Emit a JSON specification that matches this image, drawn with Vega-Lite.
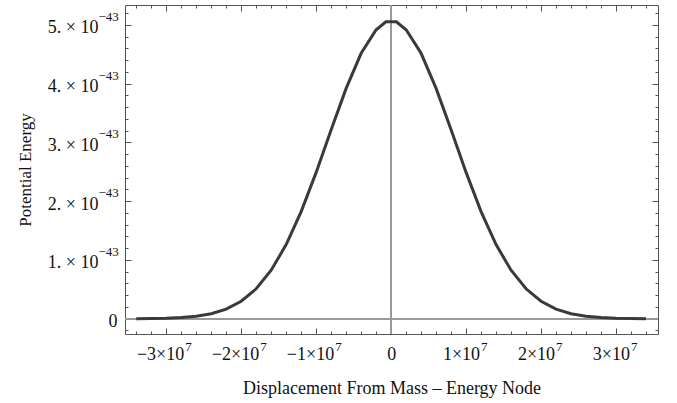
{
  "$schema": "https://vega.github.io/schema/vega-lite/v6.json",
  "width": 533,
  "height": 329,
  "autosize": {"type": "none"},
  "padding": {"left": 125, "top": 5, "right": 19, "bottom": 69},
  "background": "white",
  "config": {
    "view": {"stroke": null},
    "axis": {
      "grid": false,
      "domainColor": "#555555",
      "domainWidth": 1,
      "tickColor": "#555555",
      "tickWidth": 1,
      "labelFont": "Liberation Serif",
      "labelFontSize": 18,
      "labelColor": "#111111",
      "labelFlush": false,
      "labelOverlap": false,
      "titleFont": "Liberation Serif",
      "titleFontSize": 18,
      "titleFontWeight": "normal",
      "titleColor": "#111111"
    }
  },
  "data": {
    "values": [
      {"x": -34000000, "y": 1.4e-46},
      {"x": -32000000, "y": 3.57e-46},
      {"x": -30000000, "y": 8.6e-46},
      {"x": -28000000, "y": 1.956e-45},
      {"x": -26000000, "y": 4.205e-45},
      {"x": -24000000, "y": 8.54e-45},
      {"x": -22000000, "y": 1.639e-44},
      {"x": -20000000, "y": 2.972e-44},
      {"x": -18000000, "y": 5.093e-44},
      {"x": -16000000, "y": 8.248e-44},
      {"x": -14000000, "y": 1.262e-43},
      {"x": -12000000, "y": 1.824e-43},
      {"x": -10000000, "y": 2.491e-43},
      {"x": -8000000, "y": 3.215e-43},
      {"x": -6000000, "y": 3.921e-43},
      {"x": -4000000, "y": 4.518e-43},
      {"x": -2000000, "y": 4.919e-43},
      {"x": -700000, "y": 5.055e-43},
      {"x": 700000, "y": 5.055e-43},
      {"x": 2000000, "y": 4.919e-43},
      {"x": 4000000, "y": 4.518e-43},
      {"x": 6000000, "y": 3.921e-43},
      {"x": 8000000, "y": 3.215e-43},
      {"x": 10000000, "y": 2.491e-43},
      {"x": 12000000, "y": 1.824e-43},
      {"x": 14000000, "y": 1.262e-43},
      {"x": 16000000, "y": 8.248e-44},
      {"x": 18000000, "y": 5.093e-44},
      {"x": 20000000, "y": 2.972e-44},
      {"x": 22000000, "y": 1.639e-44},
      {"x": 24000000, "y": 8.54e-45},
      {"x": 26000000, "y": 4.205e-45},
      {"x": 28000000, "y": 1.956e-45},
      {"x": 30000000, "y": 8.6e-46},
      {"x": 32000000, "y": 3.57e-46},
      {"x": 34000000, "y": 1.4e-46}
    ]
  },
  "resolve": {"axis": {"x": "independent", "y": "independent"}},
  "layer": [
    {
      "mark": {"type": "rule", "color": "#999999", "strokeWidth": 1},
      "encoding": {
        "y": {"datum": 0, "type": "quantitative", "axis": null}
      }
    },
    {
      "mark": {"type": "rule", "color": "#999999", "strokeWidth": 1},
      "encoding": {
        "x": {"datum": 0, "type": "quantitative", "axis": null}
      }
    },
    {
      "mark": {"type": "line", "color": "#3a3a3a", "strokeWidth": 3, "interpolate": "linear"},
      "encoding": {
        "x": {
          "field": "x",
          "type": "quantitative",
          "scale": {"domain": [-35500000, 35600000], "nice": false, "zero": false},
          "axis": {
            "orient": "bottom",
            "title": "Displacement From Mass – Energy Node",
            "titlePadding": 16,
            "ticks": false,
            "labelPadding": 20,
            "labelBaseline": "middle",
            "labelAlign": "right",
            "labelOffset": 17.5,
            "values": [-30000000, -20000000, -10000000],
            "labelExpr": "format(round(datum.value/1e7), 'd') + '×10'"
          }
        },
        "y": {
          "field": "y",
          "type": "quantitative",
          "scale": {"domain": [-2.6e-44, 5.34e-43], "nice": false, "zero": false},
          "axis": {
            "orient": "left",
            "title": "Potential Energy",
            "titleFontSize": 17,
            "titlePadding": 13,
            "ticks": false,
            "labelPadding": {"condition": {"test": "datum.value == 0", "value": 8}, "value": 27},
            "labelBaseline": "middle",
            "labelOffset": 3,
            "values": [0, 1e-43, 2e-43, 3e-43, 4e-43, 5e-43],
            "labelExpr": "datum.value == 0 ? '0' : round(datum.value*1e43) + '. × 10'"
          }
        }
      }
    },
    {
      "mark": {"type": "line", "opacity": 0},
      "encoding": {
        "x": {
          "field": "x",
          "type": "quantitative",
          "axis": {
            "orient": "top",
            "title": null,
            "labels": false,
            "values": [-34000000,-32000000,-30000000,-28000000,-26000000,-24000000,-22000000,-20000000,-18000000,-16000000,-14000000,-12000000,-10000000,-8000000,-6000000,-4000000,-2000000,0,2000000,4000000,6000000,8000000,10000000,12000000,14000000,16000000,18000000,20000000,22000000,24000000,26000000,28000000,30000000,32000000,34000000],
            "tickSize": {"condition": {"test": "abs(datum.value/1e7 - round(datum.value/1e7)) < 0.01", "value": -6}, "value": -3}
          }
        },
        "y": {
          "field": "y",
          "type": "quantitative",
          "axis": {
            "orient": "right",
            "title": null,
            "labels": false,
            "values": [-2e-44,0,2e-44,4e-44,6e-44,8e-44,1e-43,1.2e-43,1.4e-43,1.6e-43,1.8e-43,2e-43,2.2e-43,2.4e-43,2.6e-43,2.8e-43,3e-43,3.2e-43,3.4e-43,3.6e-43,3.8e-43,4e-43,4.2e-43,4.4e-43,4.6e-43,4.8e-43,5e-43,5.2e-43],
            "tickSize": {"condition": {"test": "abs(datum.value*1e43 - round(datum.value*1e43)) < 0.01", "value": -6}, "value": -3}
          }
        }
      }
    },
    {
      "mark": {"type": "line", "opacity": 0},
      "encoding": {
        "x": {
          "field": "x",
          "type": "quantitative",
          "axis": {
            "orient": "bottom",
            "title": null,
            "labels": false,
            "domain": false,
            "values": [-34000000,-32000000,-30000000,-28000000,-26000000,-24000000,-22000000,-20000000,-18000000,-16000000,-14000000,-12000000,-10000000,-8000000,-6000000,-4000000,-2000000,0,2000000,4000000,6000000,8000000,10000000,12000000,14000000,16000000,18000000,20000000,22000000,24000000,26000000,28000000,30000000,32000000,34000000],
            "tickSize": {"condition": {"test": "abs(datum.value/1e7 - round(datum.value/1e7)) < 0.01", "value": -6}, "value": -3}
          }
        },
        "y": {
          "field": "y",
          "type": "quantitative",
          "axis": {
            "orient": "left",
            "title": null,
            "labels": false,
            "domain": false,
            "values": [-2e-44,0,2e-44,4e-44,6e-44,8e-44,1e-43,1.2e-43,1.4e-43,1.6e-43,1.8e-43,2e-43,2.2e-43,2.4e-43,2.6e-43,2.8e-43,3e-43,3.2e-43,3.4e-43,3.6e-43,3.8e-43,4e-43,4.2e-43,4.4e-43,4.6e-43,4.8e-43,5e-43,5.2e-43],
            "tickSize": {"condition": {"test": "abs(datum.value*1e43 - round(datum.value*1e43)) < 0.01", "value": -6}, "value": -3}
          }
        }
      }
    },
    {
      "mark": {"type": "line", "opacity": 0},
      "encoding": {
        "x": {
          "field": "x",
          "type": "quantitative",
          "axis": {
            "orient": "bottom",
            "title": null,
            "ticks": false,
            "domain": false,
            "labelFontSize": 13,
            "labelPadding": 12,
            "labelBaseline": "middle",
            "labelAlign": "left",
            "labelOffset": {"condition": {"test": "datum.value < 0", "value": 18.5}, "value": 14.5},
            "values": [-30000000, -20000000, -10000000, 10000000, 20000000, 30000000],
            "labelExpr": "'7'"
          }
        },
        "y": {
          "field": "y",
          "type": "quantitative",
          "axis": {
            "orient": "left",
            "title": null,
            "ticks": false,
            "domain": false,
            "labelFontSize": 13,
            "labelPadding": 27,
            "labelBaseline": "middle",
            "labelAlign": "left",
            "labelOffset": -8.5,
            "values": [1e-43, 2e-43, 3e-43, 4e-43, 5e-43],
            "labelExpr": "'−43'"
          }
        }
      }
    },
    {
      "mark": {"type": "line", "opacity": 0},
      "encoding": {
        "x": {
          "field": "x",
          "type": "quantitative",
          "axis": {
            "orient": "bottom",
            "title": null,
            "ticks": false,
            "domain": false,
            "labelPadding": 20,
            "labelBaseline": "middle",
            "labelAlign": {"condition": {"test": "datum.value == 0", "value": "center"}, "value": "right"},
            "labelOffset": {"condition": {"test": "datum.value == 0", "value": 0}, "value": 13.5},
            "values": [0, 10000000, 20000000, 30000000],
            "labelExpr": "datum.value == 0 ? '0' : format(round(datum.value/1e7), 'd') + '×10'"
          }
        }
      }
    }
  ]
}
